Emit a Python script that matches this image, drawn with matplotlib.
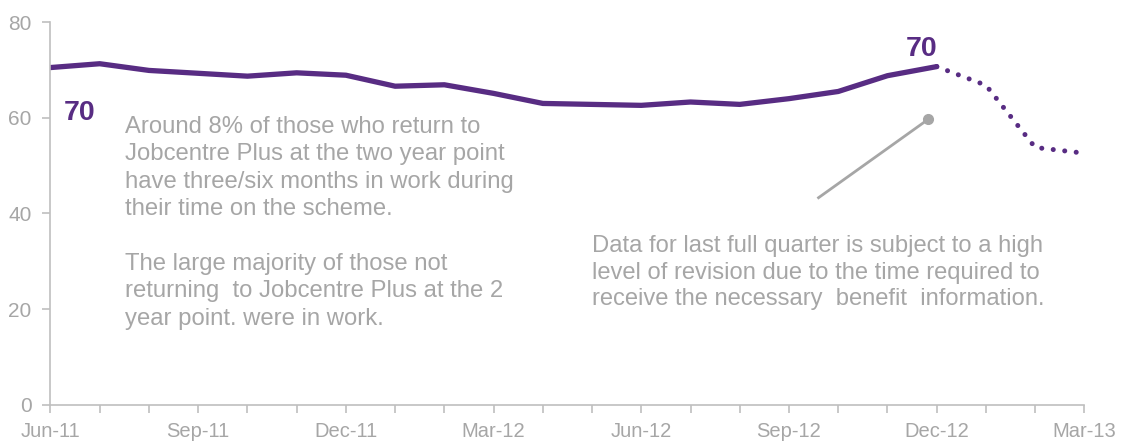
import numpy as np
import matplotlib
matplotlib.use('Agg')
import matplotlib.pyplot as plt

plt.rcParams['font.family'] = ['Liberation Sans', 'DejaVu Sans']

#_____________________________________________
# data (monthly)
months = ['Jun-11', 'Jul-11', 'Aug-11', 'Sep-11', 'Oct-11', 'Nov-11', 'Dec-11',
          'Jan-12', 'Feb-12', 'Mar-12', 'Apr-12', 'May-12', 'Jun-12', 'Jul-12',
          'Aug-12', 'Sep-12', 'Oct-12', 'Nov-12', 'Dec-12', 'Jan-13', 'Feb-13', 'Mar-13']
values = [70.5, 71.3, 69.9, 69.3, 68.7, 69.4, 68.9, 66.6, 66.9, 65.1, 63.0,
          62.8, 62.6, 63.3, 62.8, 64.0, 65.5, 68.8, 70.7, 66.8, 53.8, 52.6]
last_full = 'Dec-12'   # after this the data is provisional (dotted)
point_labels = ['70', '70']   # labels shown at start and at last full month
tick_labels = ['Jun-11', 'Sep-11', 'Dec-11', 'Mar-12', 'Jun-12', 'Sep-12', 'Dec-12', 'Mar-13']
y_ticks = [0, 20, 40, 60, 80]

purple = '#582c83'
grey_txt = '#a6a6a6'
grey_ax = '#bfbfbf'

x = np.arange(len(months))
cut = months.index(last_full)

fig = plt.figure(figsize=(11.22, 4.42), dpi=100)
ax = fig.add_axes([0.0450, 0.084, 0.9215, 0.866])

ax.plot(x[:cut + 1], values[:cut + 1], color=purple, lw=3.8,
        solid_capstyle='round', solid_joinstyle='round')
ax.plot(x[cut:], values[cut:], color=purple, lw=3.6,
        linestyle=(0, (0.01, 2.3)), dash_capstyle='round')

ax.set_xlim(0, len(months) - 1)
ax.set_ylim(0, 80)
ax.set_xticks(x)
ax.set_xticklabels([m if m in tick_labels else '' for m in months])
ax.set_yticks(y_ticks)

for s in ['top', 'right']:
    ax.spines[s].set_visible(False)
for s in ['left', 'bottom']:
    ax.spines[s].set_color(grey_ax)
    ax.spines[s].set_linewidth(1.2)
ax.tick_params(axis='both', colors=grey_ax, width=1.2, length=6,
               labelcolor=grey_txt, labelsize=14.5)
ax.tick_params(axis='x', pad=6)
ax.tick_params(axis='y', labelsize=15, pad=7.5)

# value labels
ax.text(0.6, 61.0, point_labels[0], color=purple, fontsize=20.5,
        fontweight='bold', ha='center', va='center')
ax.text(cut - 0.3, 74.4, point_labels[1], color=purple, fontsize=20.5,
        fontweight='bold', ha='center', va='center')

# notes
note1 = ('Around 8% of those who return to\n'
         'Jobcentre Plus at the two year point\n'
         'have three/six months in work during\n'
         'their time on the scheme.\n'
         '\n'
         'The large majority of those not\n'
         'returning  to Jobcentre Plus at the 2\n'
         'year point. were in work.')
fig.text(0.1114, 0.738, note1, color=grey_txt, fontsize=17.2,
         ha='left', va='top', linespacing=1.32)

note2 = ('Data for last full quarter is subject to a high\n'
         'level of revision due to the time required to\n'
         'receive the necessary  benefit  information.')
fig.text(0.528, 0.468, note2, color=grey_txt, fontsize=17.1,
         ha='left', va='top', linespacing=1.27)

# pointer line
ax.plot([15.6, 17.83], [43.3, 59.7], color='#a6a6a6', lw=2)
ax.plot([17.83], [59.7], 'o', color='#a6a6a6', ms=7)

plt.savefig('out.png', dpi=100)
